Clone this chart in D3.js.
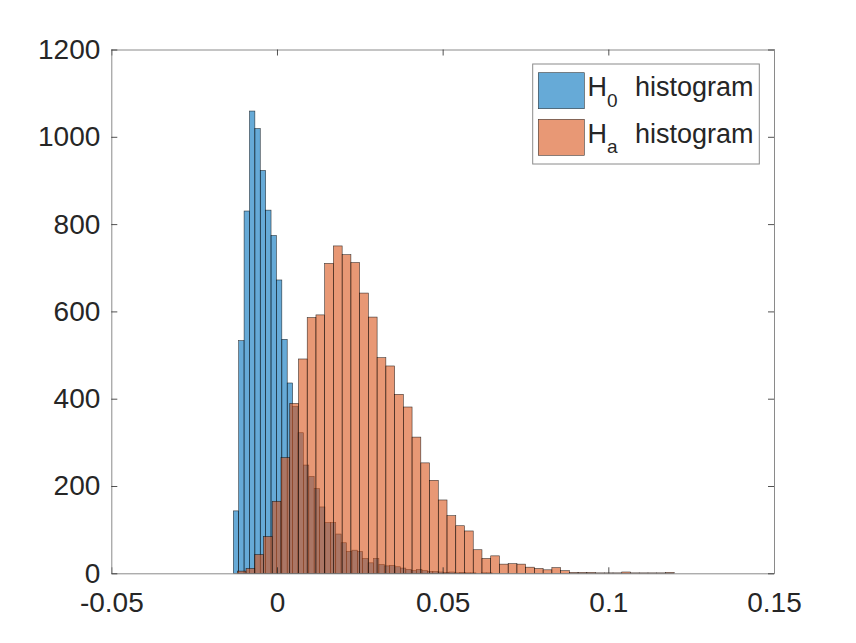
<!DOCTYPE html>
<html>
<head>
<meta charset="utf-8">
<script src="https://cdn.jsdelivr.net/npm/d3@7"></script>
<style>
  body { margin: 0; background: #fff; }
  text { font-family: "Liberation Sans", Arial, Helvetica, sans-serif; fill: #262626; }
</style>
</head>
<body>
<div id="chart"></div>
<script>
// histogram bins: first edge, bin width, counts per bin
var h0Start = -0.01318;
var h0Width = 0.001627;
var h0Counts = [143, 533, 830, 1059, 1019, 923, 832, 774, 672, 536, 436, 382,
                322, 248, 222, 194, 152, 116, 116, 90, 70, 50, 53, 50, 34, 24,
                34, 20, 17, 18, 15, 12, 9, 6, 9, 6, 4, 4, 3, 2, 3, 1, 2, 1, 1, 0, 1, 1];

var haStart = -0.01197;
var haWidth = 0.002637;
var haCounts = [5, 11, 43, 84, 165, 265, 389, 491, 586, 592, 710, 750, 730, 712,
                642, 587, 494, 475, 410, 381, 312, 253, 213, 168, 132, 109, 97, 54,
                34, 40, 21, 22, 21, 14, 11, 8, 13, 6, 2, 2, 2, 1, 1, 1, 3, 1, 1, 1, 1, 2];

var xTicks = [-0.05, 0, 0.05, 0.1, 0.15];
var yTicks = [0, 200, 400, 600, 800, 1000, 1200];
var seriesNames = ["0", "a"];

var W = 856, H = 643;
// plot box (don't call these top/left, window.top is read only)
var boxL = 111.3, boxR = 774, boxT = 49.5, boxB = 573.3;

var svg = d3.select("#chart").append("svg")
    .attr("width", W)
    .attr("height", H);

var x = d3.scaleLinear().domain([-0.05, 0.15]).range([boxL, boxR]);
var y = d3.scaleLinear().domain([0, 1200]).range([boxB, boxT]);

// turn counts into bins
function toBins(start, width, counts) {
  return counts.map(function(c, i) {
    return { x0: start + i * width, x1: start + (i + 1) * width, n: c };
  });
}

var series = [
  { bins: toBins(h0Start, h0Width, h0Counts), color: "#0072BD" },
  { bins: toBins(haStart, haWidth, haCounts), color: "#D95319" }
];

// draw the bars, H0 first so Ha sits on top
series.forEach(function(s) {
  svg.append("g").selectAll("rect")
    .data(s.bins.filter(function(b) { return b.n > 0; }))
    .enter().append("rect")
    .attr("x", function(b) { return x(b.x0); })
    .attr("width", function(b) { return x(b.x1) - x(b.x0); })
    .attr("y", function(b) { return y(b.n); })
    .attr("height", function(b) { return y(0) - y(b.n); })
    .style("fill", s.color)
    .style("fill-opacity", 0.6)
    .style("stroke", "#000")
    .style("stroke-opacity", 0.75)
    .style("stroke-width", 0.6);
});

// axes, ticks pointing inward like matlab
var fmtX = function(d) { return d === 0 ? "0" : String(d); };

var gx = svg.append("g").attr("transform", "translate(0," + boxB + ")")
  .call(d3.axisBottom(x).tickValues(xTicks).tickFormat(fmtX)
    .tickSizeInner(-6).tickSizeOuter(0).tickPadding(18.5));
var gxt = svg.append("g").attr("transform", "translate(0," + boxT + ")")
  .call(d3.axisTop(x).tickValues(xTicks).tickFormat("")
    .tickSizeInner(-6).tickSizeOuter(0));
var gy = svg.append("g").attr("transform", "translate(" + boxL + ",0)")
  .call(d3.axisLeft(y).tickValues(yTicks).tickFormat(d3.format("d"))
    .tickSizeInner(-6).tickSizeOuter(0).tickPadding(11));
var gyr = svg.append("g").attr("transform", "translate(" + boxR + ",0)")
  .call(d3.axisRight(y).tickValues(yTicks).tickFormat("")
    .tickSizeInner(-6).tickSizeOuter(0));

[gx, gxt, gy, gyr].forEach(function(g) {
  g.select(".domain").style("stroke", "#8a8a8a").style("stroke-width", 1);
  g.selectAll(".tick line").style("stroke", "#262626").style("stroke-width", 0.8);
  g.selectAll(".tick text")
    .style("font-size", "28px")
    .style("fill", "#262626");
});

// legend
var lg = svg.append("g");
lg.append("rect")
  .attr("x", 532.7).attr("y", 64)
  .attr("width", 226.6).attr("height", 100)
  .style("fill", "#fff")
  .style("stroke", "#8a8a8a")
  .style("stroke-width", 1);

series.forEach(function(s, i) {
  var row = lg.append("g").attr("transform", "translate(0," + (i * 46.6) + ")");
  row.append("rect")
    .attr("x", 538.3).attr("y", 72.7)
    .attr("width", 46).attr("height", 36)
    .style("fill", s.color)
    .style("fill-opacity", 0.6)
    .style("stroke", "#000")
    .style("stroke-opacity", 0.75)
    .style("stroke-width", 0.6);
  var t = row.append("text")
    .attr("x", 587.5).attr("y", 96)
    .style("font-size", "27px");
  t.append("tspan").text("H");
  t.append("tspan")
    .attr("dy", 10.5)
    .style("font-size", "19px")
    .text(seriesNames[i]);
  row.append("text")
    .attr("x", 635).attr("y", 96)
    .style("font-size", "27px")
    .text("histogram");
});
</script>
</body>
</html>
